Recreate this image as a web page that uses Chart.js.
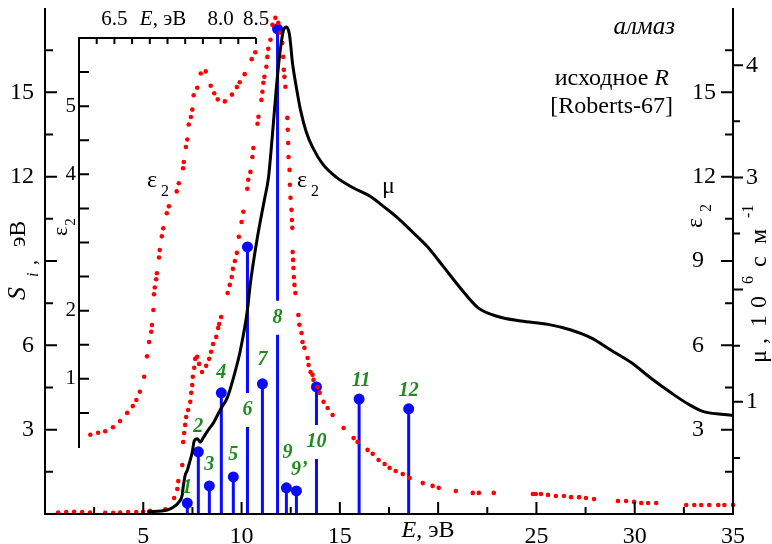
<!DOCTYPE html>
<html>
<head>
<meta charset="utf-8">
<script src="https://cdn.jsdelivr.net/npm/chart.js@4.4.1/dist/chart.umd.min.js"></script>
<style>
  html, body { margin: 0; padding: 0; background: #fff; }
  #wrap { position: relative; width: 772px; height: 544px; }
  #wrap canvas { position: absolute; left: 0; top: 0; }
</style>
</head>
<body>
<div id="wrap">
  <canvas id="main" width="772" height="544"></canvas>
  <canvas id="inset" width="772" height="544"></canvas>
</div>
<script>
// ε2 of diamond, 0–35 eV (red dots)
const epsE = [0.67, 1.08, 1.48, 1.89, 2.29, 3.06, 3.47, 3.82, 4.23, 4.64, 4.99, 5.35, 6.12,
  6.57, 6.73, 6.78, 6.98, 7.03, 7.08, 7.13, 7.18, 7.28, 7.39, 7.44, 7.49, 7.52, 7.59, 7.64, 7.74, 7.84, 7.99,
  8.2, 8.35, 8.45, 8.55, 8.71, 8.81, 8.86, 8.96,
  9.29, 9.4, 9.5, 9.56, 9.66, 9.76, 9.86, 10.0, 10.09,
  10.29, 10.34, 10.45, 10.55, 10.6,
  10.81, 10.86, 11.01, 11.06, 11.11, 11.16, 11.26, 11.31, 11.36, 11.47, 11.57, 11.72, 11.87, 11.97, 12.07,
  12.12, 12.15, 12.18, 12.23,
  12.33, 12.35, 12.37, 12.39, 12.44, 12.46, 12.49, 12.54, 12.56, 12.58,
  12.6, 12.62, 12.64, 12.66, 12.69, 12.74,
  12.89, 12.94, 13.05, 13.1, 13.2, 13.36, 13.41, 13.51, 13.61, 13.66, 13.86, 13.97, 14.17, 14.38, 14.63,
  15.19, 15.7, 15.9, 16.41, 16.67, 16.97, 17.28, 17.53, 17.84, 18.2, 18.55, 19.22, 19.72, 20.03, 20.9,
  21.76, 22.07, 22.83,
  24.82, 24.97, 25.23, 25.59, 25.99, 26.4, 26.76, 27.17, 27.52, 27.93,
  29.15, 29.56, 29.97, 30.33, 30.68, 31.09,
  32.62, 33.03, 33.38, 33.79, 34.25, 34.56, 35.0];
const epsV = [0.05, 0.07, 0.08, 0.07, 0.05, 0.04, 0.04, 0.05, 0.07, 0.07, 0.08, 0.11, 0.17,
  0.57, 0.89, 1.17, 1.74, 2.56, 2.88, 3.17, 3.45, 3.7, 3.99, 4.31, 4.59, 4.88, 5.2, 5.52, 5.59, 5.34, 5.05,
  5.27, 5.52, 5.77, 6.05, 6.3, 6.62, 6.76, 7.01,
  7.86, 8.15, 8.43, 8.72, 9.0, 9.29, 9.86, 10.39, 10.75,
  11.57, 11.89, 12.17, 12.7, 13.02,
  13.88, 14.13, 14.73, 15.02, 15.34, 15.55, 15.91, 16.26, 16.55, 16.87, 17.4, 17.65, 17.47, 17.12, 16.76,
  16.26, 15.8, 15.55, 15.2,
  14.09, 13.67, 13.2, 12.7, 12.24, 11.71, 11.25, 10.82, 10.46, 10.18,
  9.32, 9.04, 8.75, 8.43, 8.15, 7.86,
  7.08, 6.73, 6.44, 6.12, 5.91, 5.55, 5.3, 5.05, 4.95, 4.77, 4.52, 4.31, 3.99, 3.77, 3.52,
  3.06, 2.7, 2.56, 2.28, 2.14, 1.92, 1.78, 1.64, 1.53, 1.42, 1.28, 1.1, 1.0, 0.93, 0.82,
  0.75, 0.75, 0.75,
  0.71, 0.71, 0.71, 0.68, 0.64, 0.64, 0.6, 0.6, 0.57, 0.53,
  0.46, 0.46, 0.43, 0.39, 0.39, 0.39,
  0.32, 0.32, 0.32, 0.32, 0.32, 0.32, 0.32];

// absorption coefficient μ, 10^6 cm^-1 (black line)
const muE = [5.2, 6.22, 6.52, 6.78, 6.98, 7.03, 7.14, 7.24, 7.34, 7.49, 7.59, 7.75, 7.9, 8.05, 8.31, 8.56,
  8.92, 9.28, 9.58, 9.94, 10.3, 10.43, 10.79, 11.16, 11.37, 11.57, 11.77, 11.98, 12.13, 12.28,
  12.44, 12.59, 12.79, 13.0, 13.3, 13.61, 14.12, 14.83, 15.65, 16.56, 17.23, 17.94, 18.6, 19.47,
  20.29, 21.15, 22.02, 23.04, 24.21, 25.59, 26.76, 27.78, 28.8, 29.82, 30.83, 31.85, 32.72, 33.54,
  34.4, 35.0];
const muV = [0.02, 0.036, 0.06, 0.1, 0.17, 0.24, 0.35, 0.39, 0.45, 0.55, 0.65, 0.67, 0.64, 0.68, 0.75, 0.81,
  0.93, 1.04, 1.21, 1.46, 1.82, 2.03, 2.45, 2.8, 3.0, 3.38, 3.8, 4.15, 4.31, 4.34,
  4.27, 4.02, 3.8, 3.6, 3.4, 3.27, 3.12, 3.0, 2.91, 2.83, 2.74, 2.64, 2.53, 2.38,
  2.2, 2.01, 1.84, 1.76, 1.72, 1.69, 1.64, 1.57, 1.46, 1.35, 1.21, 1.08, 0.98, 0.91,
  0.89, 0.88];

// transition strengths S_i, эВ (blue stems)
const peakNames = ['1', '2', '3', '4', '5', '6', '7', '8', '9', '9’', '10', '11', '12'];
const peakE = [7.24, 7.8, 8.36, 8.97, 9.58, 10.3, 11.06, 11.83, 12.28, 12.79, 13.81, 15.98, 18.5];
const peakS = [0.39, 2.21, 1.0, 4.31, 1.32, 9.5, 4.63, 17.26, 0.93, 0.82, 4.52, 4.09, 3.74];

// inset: ε2 near the edge, 6–8.5 eV
const insetE = [6.16, 6.27, 6.37, 6.48, 6.58, 6.68, 6.76, 6.81, 6.86, 6.92, 6.96, 6.99, 7.02, 7.03, 7.05,
  7.06, 7.07, 7.09, 7.1, 7.13, 7.14, 7.17, 7.19, 7.24, 7.27, 7.38, 7.41, 7.47, 7.48, 7.51, 7.53, 7.55,
  7.58, 7.6, 7.62, 7.67, 7.72, 7.79, 7.86, 7.91, 7.96, 8.06, 8.16, 8.23, 8.27, 8.34, 8.44, 8.49];
const insetV = [0.18, 0.21, 0.23, 0.29, 0.38, 0.5, 0.6, 0.69, 0.81, 1.03, 1.33, 1.54, 1.69, 1.79, 2.01,
  2.24, 2.34, 2.46, 2.55, 2.78, 2.89, 3.09, 3.21, 3.43, 3.53, 3.75, 3.87, 4.09, 4.18, 4.4, 4.51, 4.73,
  4.84, 4.95, 5.16, 5.27, 5.48, 5.51, 5.3, 5.19, 5.1, 5.07, 5.17, 5.28, 5.35, 5.47, 5.69, 5.79];

// tick labels
const xLabels = [5, 10, 15, 25, 30, 35];
const sLabels = [3, 6, 12, 15];
const eps2Labels = [3, 6, 9, 12, 15];
const muLabels = [1, 3, 4];
const insetXLabels = [6.5, 8, 8.5];
const insetYLabels = [1, 2, 4, 5];

const SERIF = "'Liberation Serif', 'Times New Roman', serif";
const font = (style, size) => `${style} ${size}px ${SERIF}`;
const range = (a, b, s) => { const r = []; for (let v = a; v <= b + 1e-9; v += s) r.push(+v.toFixed(3)); return r; };

Chart.defaults.font.family = SERIF;
Chart.defaults.color = '#000';

// writes a row of text pieces (own font, baseline shift, optional fixed offset `at`), optionally rotated
function drawRuns(ctx, runs, x, y, opts = {}) {
  ctx.save();
  ctx.translate(x, y);
  if (opts.rotate) ctx.rotate(opts.rotate);
  ctx.textBaseline = 'alphabetic';
  ctx.textAlign = 'left';
  ctx.fillStyle = opts.color || '#000';
  let w = 0;
  runs.forEach(r => { ctx.font = r.font; w += ctx.measureText(r.text).width + (r.gap || 0); });
  let cx = opts.align === 'right' ? -w : opts.align === 'center' ? -w / 2 : 0;
  runs.forEach(r => {
    ctx.font = r.font;
    if (r.at !== undefined) cx = r.at;
    ctx.fillText(r.text, cx, r.dy || 0);
    cx += ctx.measureText(r.text).width + (r.gap || 0);
  });
  ctx.restore();
}

function tickLines(ctx, values, len, at) {
  ctx.beginPath();
  values.forEach(v => { const [x0, y0, x1, y1] = at(v, len); ctx.moveTo(x0, y0); ctx.lineTo(x1, y1); });
  ctx.stroke();
}

// stems for S_i, drawn under the datasets; numbers on top of everything
const stems = {
  id: 'stems',
  beforeDatasetsDraw(chart, args, o) {
    const { ctx, scales: { x, yS } } = chart;
    const base = yS.getPixelForValue(0);
    ctx.save();
    ctx.strokeStyle = o.color;
    ctx.lineWidth = o.width;
    ctx.beginPath();
    peakE.forEach((e, i) => {
      const px = x.getPixelForValue(e);
      const top = yS.getPixelForValue(peakS[i]);
      const inStem = o.inStem[peakNames[i]];
      if (inStem !== undefined) {
        const gy = yS.getPixelForValue(inStem);
        ctx.moveTo(px, top); ctx.lineTo(px, gy - o.gap);
        ctx.moveTo(px, gy + o.gap); ctx.lineTo(px, base);
      } else {
        ctx.moveTo(px, top); ctx.lineTo(px, base);
      }
    });
    ctx.stroke();
    ctx.restore();
  },
  afterDraw(chart, args, o) {
    const { ctx, scales: { x, yS } } = chart;
    ctx.save();
    ctx.font = font('italic bold', 20);
    ctx.fillStyle = o.labelColor;
    ctx.textAlign = 'center';
    ctx.textBaseline = 'middle';
    peakE.forEach((e, i) => {
      const name = peakNames[i];
      const px = x.getPixelForValue(e);
      const inStem = o.inStem[name];
      const py = inStem !== undefined ? yS.getPixelForValue(inStem)
                                      : yS.getPixelForValue(peakS[i]) - o.lift[name];
      ctx.fillText(name, px + (o.shift[name] || 0), py);
    });
    ctx.restore();
  }
};

// axes lines, inward ticks, inner ε2 labels and annotations
const frame = {
  id: 'frame',
  afterDraw(chart) {
    const { ctx, chartArea: a, scales: { x, yS, yE, yMu } } = chart;
    ctx.save();
    ctx.strokeStyle = '#000';
    ctx.lineWidth = 2;
    ctx.beginPath();
    ctx.moveTo(a.left, a.top); ctx.lineTo(a.left, a.bottom);
    ctx.lineTo(a.right, a.bottom); ctx.lineTo(a.right, a.top);
    ctx.stroke();

    const xAt = (v, l) => { const p = x.getPixelForValue(v); return [p, a.bottom, p, a.bottom - l]; };
    tickLines(ctx, range(5, 30, 5), 12, xAt);
    tickLines(ctx, range(2.5, 32.5, 5), 7, xAt);
    const sAt = (v, l) => { const p = yS.getPixelForValue(v); return [a.left, p, a.left + l, p]; };
    tickLines(ctx, range(3, 15, 3), 12, sAt);
    tickLines(ctx, range(1.5, 16.5, 3), 8, sAt);
    const eAt = (v, l) => { const p = yE.getPixelForValue(v); return [a.right, p, a.right - l, p]; };
    tickLines(ctx, range(3, 15, 3), 12, eAt);
    tickLines(ctx, range(1.5, 16.5, 3), 8, eAt);
    const mAt = (v, l) => { const p = yMu.getPixelForValue(v); return [a.right, p, a.right + l, p]; };
    tickLines(ctx, range(1, 4, 1), 10, mAt);
    tickLines(ctx, range(0.5, 3.5, 1), 7, mAt);

    // ε2 values sit inside the frame, next to the right axis
    ctx.font = font('', 24);
    ctx.fillStyle = '#000';
    ctx.textAlign = 'left';
    ctx.textBaseline = 'middle';
    eps2Labels.forEach(v => ctx.fillText(String(v), a.right - 41, yE.getPixelForValue(v)));
    ctx.restore();

    const up = -Math.PI / 2;
    // axis titles
    drawRuns(ctx, [
      { text: 'S', font: font('italic', 26) },
      { text: 'i', font: font('italic', 16), dy: 13, at: 23 },
      { text: ',', font: font('', 20), dy: 11, at: 35 },
      { text: 'эВ', font: font('', 24), at: 53 }
    ], 25, 300, { rotate: up });
    drawRuns(ctx, [
      { text: 'ε', font: font('', 24), gap: 6 },
      { text: '2', font: font('', 16), dy: 9 }
    ], 702, 228, { rotate: up });
    drawRuns(ctx, [
      { text: 'μ', font: font('', 24) },
      { text: ',', font: font('', 24), at: 19 },
      { text: '1', font: font('', 24), at: 36 },
      { text: '0', font: font('', 24), at: 55 },
      { text: '6', font: font('', 16), dy: -13, at: 79 },
      { text: 'с', font: font('', 24), at: 96 },
      { text: 'м', font: font('', 24), at: 119 },
      { text: '-1', font: font('', 16), dy: -13, at: 145 }
    ], 766, 363, { rotate: up });
    drawRuns(ctx, [
      { text: 'E', font: font('italic', 24) },
      { text: ', эВ', font: font('', 24) }
    ], 428, 537, { align: 'center' });

    // curve names
    const eps = (px, py) => drawRuns(ctx, [
      { text: 'ε', font: font('', 24), gap: 4 },
      { text: '2', font: font('', 16), dy: 9 }
    ], px, py);
    eps(147, 187);
    eps(297, 187);
    drawRuns(ctx, [{ text: 'μ', font: font('', 24) }], 382, 193);

    drawRuns(ctx, [{ text: 'алмаз', font: font('italic', 25) }], 675, 34, { align: 'right' });
    drawRuns(ctx, [
      { text: 'исходное ', font: font('', 24) },
      { text: 'R', font: font('italic', 24) }
    ], 669, 85, { align: 'right' });
    drawRuns(ctx, [{ text: '[Roberts-67]', font: font('', 24) }], 673, 113, { align: 'right' });
  }
};

const tickFont = { family: SERIF, size: 24 };

new Chart(document.getElementById('main'), {
  type: 'scatter',
  data: {
    datasets: [
      {
        label: 'μ',
        data: muE.map((e, i) => ({ x: e, y: muV[i] })),
        yAxisID: 'yMu',
        showLine: true,
        borderColor: '#000',
        borderWidth: 3,
        pointRadius: 0,
        cubicInterpolationMode: 'monotone',
        order: 0
      },
      {
        label: 'ε2',
        data: epsE.map((e, i) => ({ x: e, y: epsV[i] })),
        yAxisID: 'yE',
        pointRadius: 2.3,
        backgroundColor: '#ff0000',
        borderWidth: 0,
        clip: false,
        order: 1
      },
      {
        label: 'S',
        data: peakE.map((e, i) => ({ x: e, y: peakS[i] })),
        yAxisID: 'yS',
        pointRadius: 5.5,
        backgroundColor: '#0a0aff',
        borderWidth: 0,
        clip: false,
        order: 2
      }
    ]
  },
  options: {
    responsive: false,
    animation: false,
    events: [],
    layout: { padding: { top: 8 } },
    plugins: {
      legend: { display: false },
      tooltip: { enabled: false },
      stems: {
        color: '#0a0aff',
        width: 3,
        gap: 17,
        labelColor: '#1f8b1f',
        inStem: { '6': 3.7, '8': 6.98, '10': 2.56 },
        lift: { '1': 15, '2': 25, '3': 21, '4': 20, '5': 22, '7': 24, '9': 35, '9’': 21, '11': 18, '12': 18 },
        shift: { '9': 1, '9’': 3, '11': 2 }
      }
    },
    scales: {
      x: {
        type: 'linear', min: 0, max: 35, position: 'bottom',
        grid: { display: false, drawTicks: false }, border: { display: false },
        ticks: {
          stepSize: 5, padding: 8, font: tickFont, maxRotation: 0, autoSkip: false,
          callback: v => xLabels.includes(v) ? String(v) : ''
        },
        afterFit(s) { s.height = 30; s.paddingLeft = 0; s.paddingRight = 0; }
      },
      yS: {
        type: 'linear', min: 0, max: 18, position: 'left',
        grid: { display: false, drawTicks: false }, border: { display: false },
        ticks: { stepSize: 3, padding: 11, font: tickFont, callback: v => sLabels.includes(v) ? String(v) : '' },
        afterFit(s) { s.width = 45; s.paddingTop = 0; s.paddingBottom = 0; }
      },
      yE: { type: 'linear', min: 0, max: 18, position: 'right', display: false },
      yMu: {
        type: 'linear', min: 0, max: 4.51, position: 'right',
        grid: { display: false, drawTicks: false }, border: { display: false },
        ticks: { stepSize: 1, padding: 13, font: tickFont, callback: v => muLabels.includes(v) ? String(v) : '' },
        afterFit(s) { s.width = 39; s.paddingTop = 0; s.paddingBottom = 0; }
      }
    }
  },
  plugins: [stems, frame]
});

// inset axes (top and left only) with its own annotations
const insetFrame = {
  id: 'insetFrame',
  afterDraw(chart) {
    const { ctx, chartArea: a, scales: { ix, iy } } = chart;
    ctx.save();
    ctx.strokeStyle = '#000';
    ctx.lineWidth = 2;
    ctx.beginPath();
    ctx.moveTo(a.left, a.bottom + 1); ctx.lineTo(a.left, a.top); ctx.lineTo(a.right, a.top);
    ctx.stroke();
    tickLines(ctx, range(6.25, 8.5, 0.25), 6, (v, l) => { const p = ix.getPixelForValue(v); return [p, a.top, p, a.top + l]; });
    tickLines(ctx, range(0.5, 5.5, 0.5), 10, (v, l) => { const p = iy.getPixelForValue(v); return [a.left, p, a.left + l, p]; });
    ctx.restore();
    drawRuns(ctx, [
      { text: 'E', font: font('italic', 21) },
      { text: ', эВ', font: font('', 21) }
    ], 163, 25, { align: 'center' });
    drawRuns(ctx, [
      { text: 'ε', font: font('', 22), gap: 1 },
      { text: '2', font: font('', 15), dy: 8 }
    ], 67, 236, { rotate: -Math.PI / 2 });
  }
};

const insetTickFont = { family: SERIF, size: 21 };

new Chart(document.getElementById('inset'), {
  type: 'scatter',
  data: {
    datasets: [{
      label: 'ε2 (inset)',
      data: insetE.map((e, i) => ({ x: e, y: insetV[i] })),
      xAxisID: 'ix',
      yAxisID: 'iy',
      pointRadius: 2.3,
      backgroundColor: '#ff0000',
      borderWidth: 0,
      clip: false
    }]
  },
  options: {
    responsive: false,
    animation: false,
    events: [],
    layout: { padding: { left: 49, top: 8, right: 516, bottom: 97 } },
    plugins: { legend: { display: false }, tooltip: { enabled: false } },
    scales: {
      ix: {
        type: 'linear', axis: 'x', position: 'top', min: 6, max: 8.5,
        grid: { display: false, drawTicks: false }, border: { display: false },
        ticks: {
          stepSize: 0.25, padding: 6, font: insetTickFont, maxRotation: 0, autoSkip: false,
          callback: v => insetXLabels.includes(v) ? v.toFixed(1) : ''
        },
        afterFit(s) { s.height = 30; s.paddingLeft = 0; s.paddingRight = 0; }
      },
      iy: {
        type: 'linear', axis: 'y', position: 'left', min: 0, max: 6,
        grid: { display: false, drawTicks: false }, border: { display: false },
        ticks: { stepSize: 1, padding: 3, font: insetTickFont, callback: v => insetYLabels.includes(v) ? String(v) : '' },
        afterFit(s) { s.width = 30; s.paddingTop = 0; s.paddingBottom = 0; }
      }
    }
  },
  plugins: [insetFrame]
});
</script>
</body>
</html>
